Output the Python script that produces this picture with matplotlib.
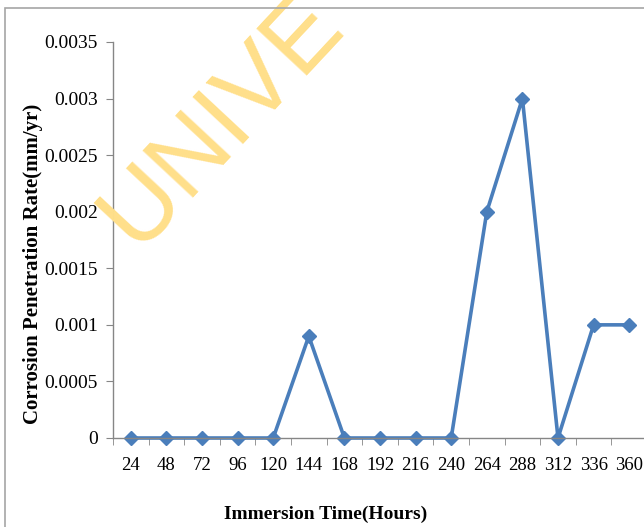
import numpy as np
import matplotlib.pyplot as plt
from matplotlib.patches import Rectangle
from matplotlib.ticker import FixedLocator, FuncFormatter

# immersion time (hours) and corrosion penetration rate (mm/yr)
hours = [24, 48, 72, 96, 120, 144, 168, 192, 216, 240, 264, 288, 312, 336, 360]
rate = [0, 0, 0, 0, 0, 0.0009, 0, 0, 0, 0, 0.002, 0.003, 0, 0.001, 0.001]
y_ticks = [0, 0.0005, 0.001, 0.0015, 0.002, 0.0025, 0.003, 0.0035]

plt.rcParams['font.family'] = ['Liberation Serif', 'DejaVu Serif']

W, H = 644, 527
fig = plt.figure(figsize=(W / 100, H / 100), dpi=100)

# chart frame (only left and top edges fall inside the image)
fig.patches.append(Rectangle((5 / W, -0.1), 1.2, 1 - 8 / H + 0.1, transform=fig.transFigure,
                             fill=False, edgecolor='#a6a6a6', linewidth=1.2))

# watermark
fig.text(137 / W, 1 - 250 / H, 'UNIVE', rotation=47, rotation_mode='anchor',
         ha='left', va='baseline', fontsize=72, family='Liberation Sans',
         color='#ffdf8a', zorder=0)

ax = fig.add_axes([113 / W, 1 - 438 / H, (647 - 113) / W, (438 - 42) / H])
ax.patch.set_alpha(0)

x = np.arange(len(hours))
ax.plot(x, rate, color='#4a7ebb', linewidth=2.6, marker='D', markersize=7,
        markerfacecolor='#4a7ebb', markeredgecolor='#4a7ebb', clip_on=False)

ax.set_xlim(-0.5, len(hours) - 0.5)
ax.set_ylim(0, 0.0035)

ax.set_xticks(x)
ax.set_xticklabels([str(h) for h in hours])
ax.xaxis.set_minor_locator(FixedLocator(np.arange(-0.5, len(hours), 1.0)))
ax.tick_params(axis='x', which='major', length=0, pad=14, labelsize=13.5)
ax.tick_params(axis='x', which='minor', length=5, color='#868686', direction='out')

ax.set_yticks(y_ticks)
ax.yaxis.set_major_formatter(FuncFormatter(lambda v, p: '0' if v == 0 else f'{v:g}'))
ax.tick_params(axis='y', length=5, color='#868686', direction='out', pad=6, labelsize=14)

for side in ['top', 'right']:
    ax.spines[side].set_visible(False)
for side in ['left', 'bottom']:
    ax.spines[side].set_color('#868686')
    ax.spines[side].set_linewidth(1)

fig.text(326 / W, 1 - 514 / H, 'Immersion Time(Hours)', ha='center', va='center',
         fontsize=14, fontweight='bold')
fig.text(33 / W, 1 - 264 / H, 'Corrosion Penetration Rate(mm/yr)', ha='center', va='center',
         rotation=90, fontsize=15, fontweight='bold')

fig.savefig('out.png', dpi=100)
